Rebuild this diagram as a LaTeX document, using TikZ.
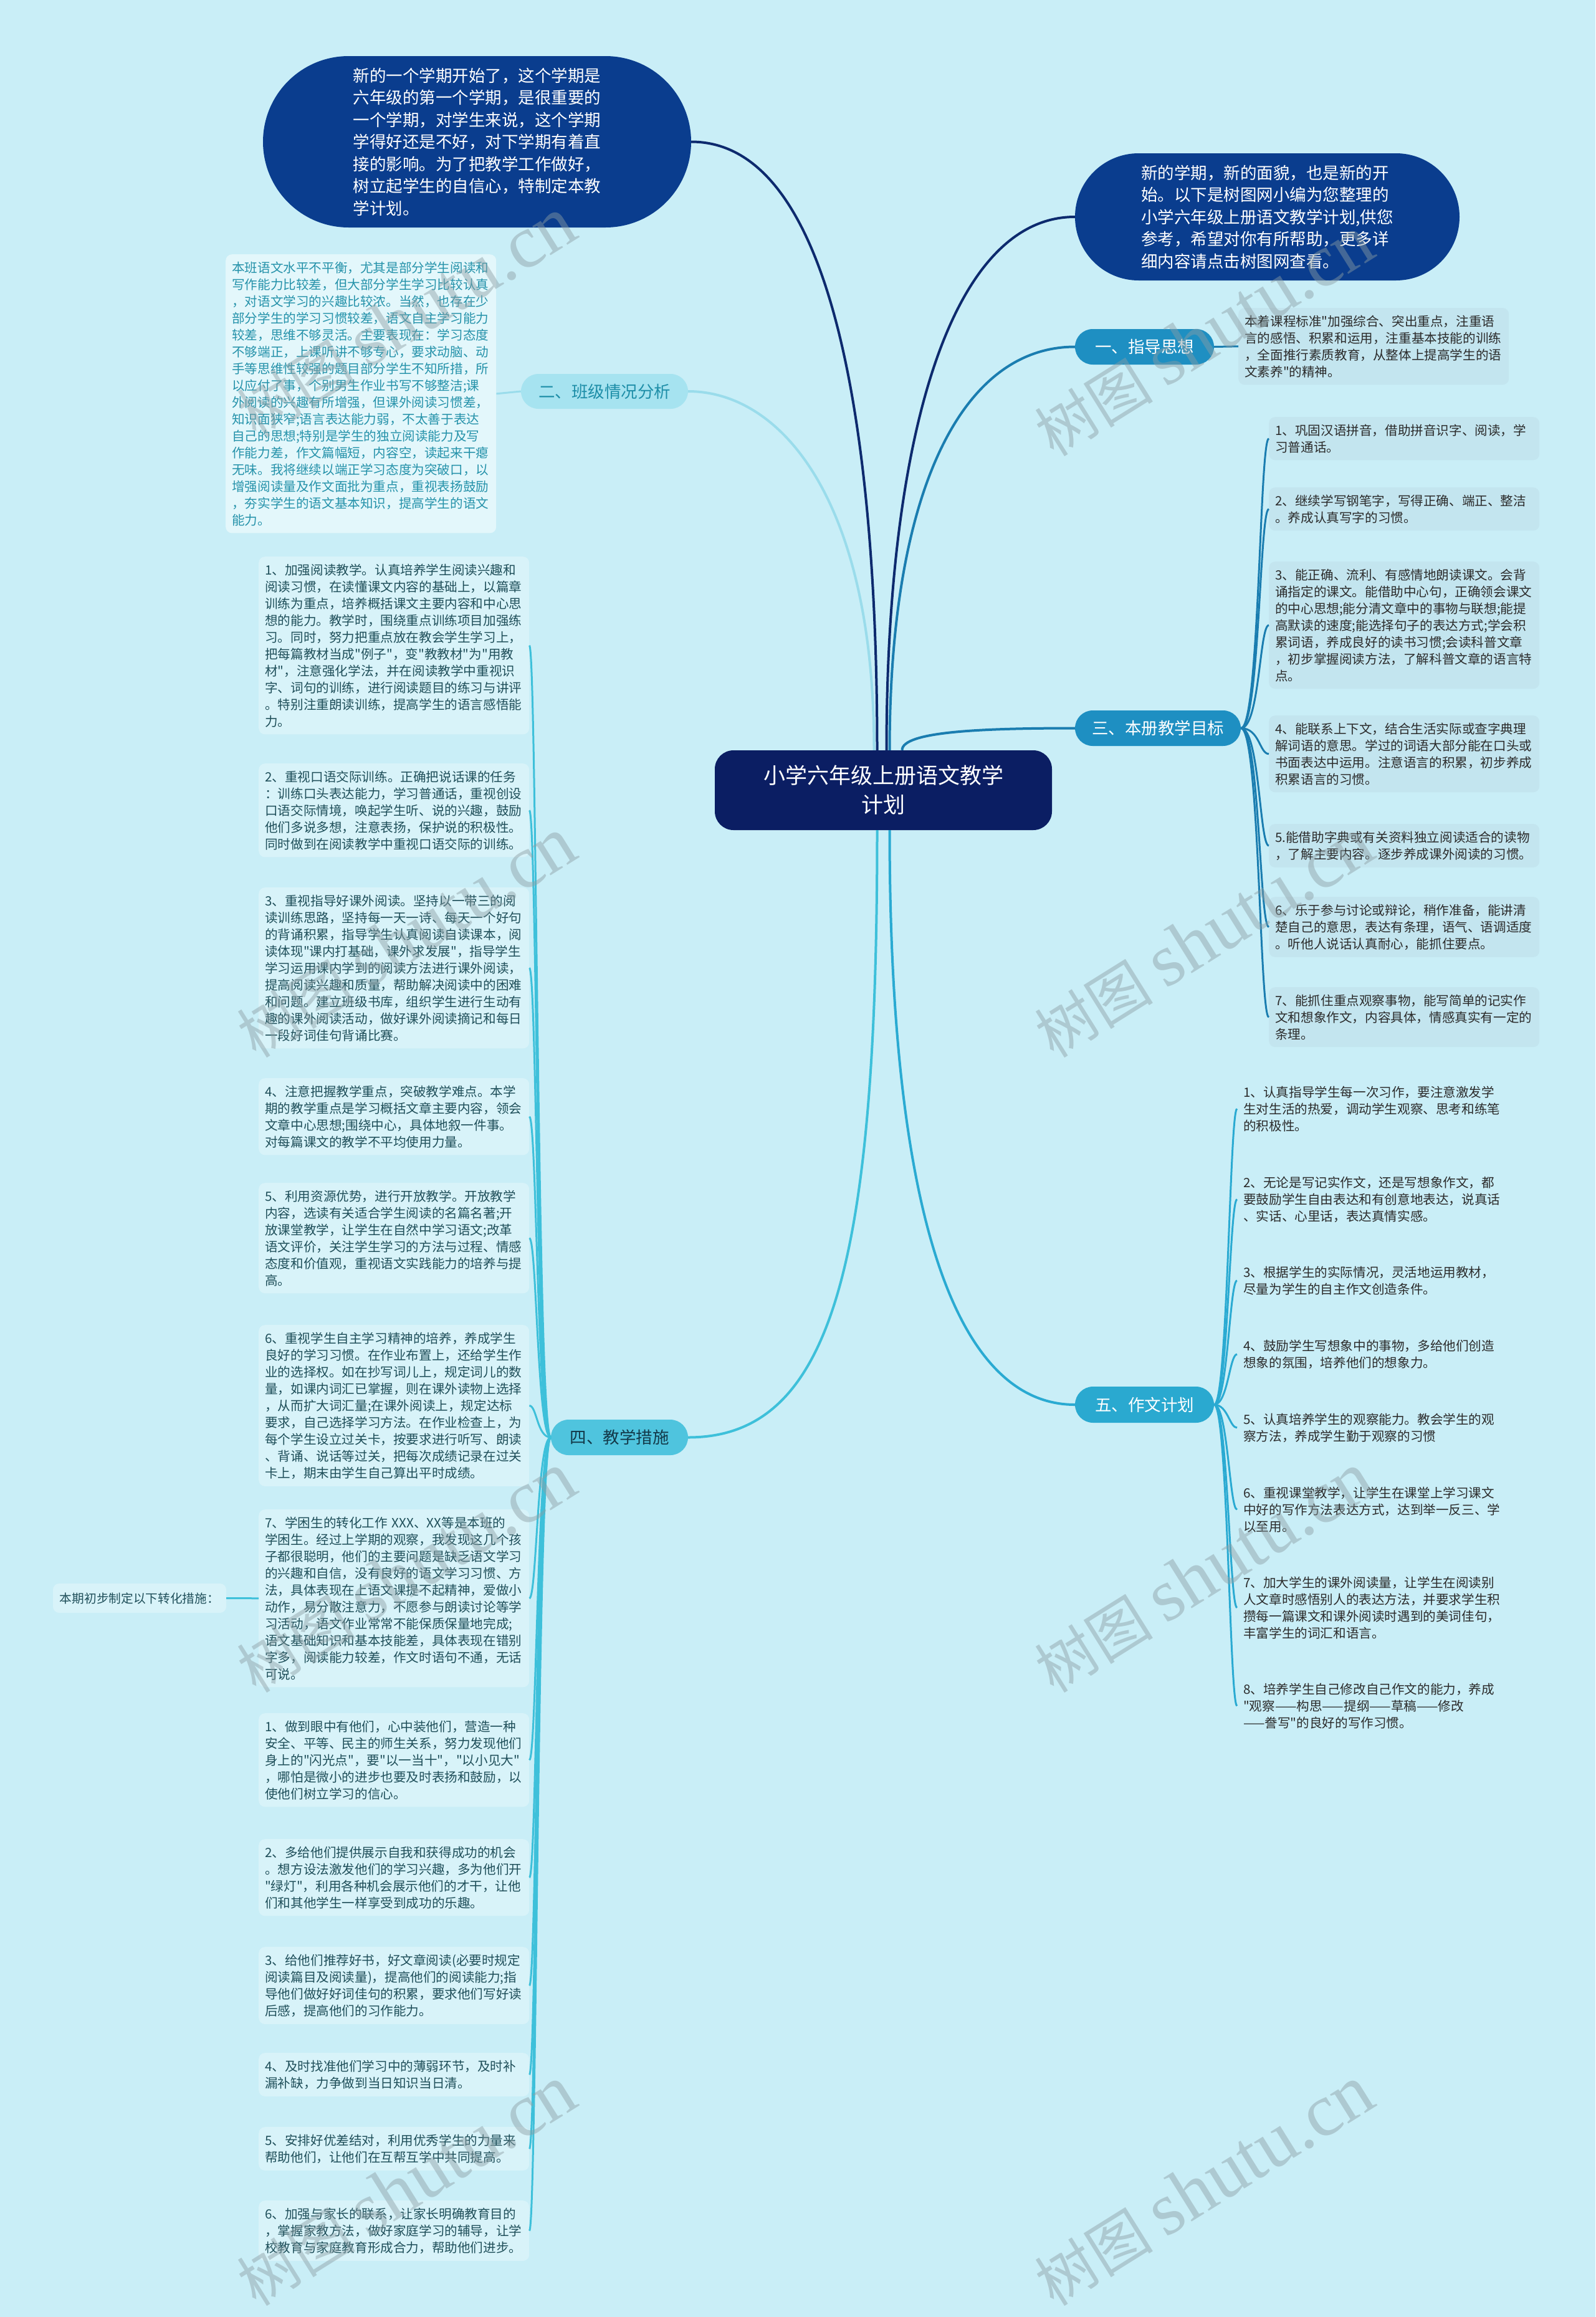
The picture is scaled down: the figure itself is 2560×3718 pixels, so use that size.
\documentclass[tikz,border=0pt]{standalone}
\usepackage{fontspec}
\setmainfont{Noto Sans CJK SC}
\newfontfamily\cjk{Noto Sans CJK SC}
\newfontfamily\wmserif{Liberation Serif}
\newcommand\myfs[2]{\cjk\fontsize{#1}{#2}\selectfont}
\usetikzlibrary{shapes.misc}
\definecolor{bgc}{HTML}{C9EEF7}
\definecolor{centerc}{HTML}{0B1E63}
\definecolor{bubblec}{HTML}{0A3D8E}
\definecolor{tealc}{HTML}{1E8FC2}
\definecolor{fivec}{HTML}{2AA9D0}
\definecolor{twoc}{HTML}{A6E3F0}
\definecolor{twotext}{HTML}{1E8EA8}
\definecolor{fourc}{HTML}{4FC4DE}
\definecolor{fourtext}{HTML}{133A4A}
\definecolor{navyline}{HTML}{0D2A6E}
\definecolor{tealline}{HTML}{1A7DB0}
\definecolor{fiveline}{HTML}{2AAAD2}
\definecolor{twoline}{HTML}{9ADCEB}
\definecolor{fourline}{HTML}{3EC0DA}
\definecolor{rleaf}{HTML}{C3E5EF}
\definecolor{lleaf}{HTML}{D8F3F9}
\definecolor{lleaftext}{HTML}{1F4F5A}
\definecolor{twoleaf}{HTML}{E3F7FB}
\definecolor{twoleaftext}{HTML}{2592AA}
\definecolor{darktext}{HTML}{2B2B2B}
\definecolor{wmc}{HTML}{8C9EA3}
\tikzset{
  leafbase/.style={anchor=north west, rounded corners=10pt, inner xsep=10pt, inner ysep=11.5pt,
    text width=414pt, align=left, font=\myfs{20.6}{27}},
  leafR/.style={leafbase, fill=rleaf, text=darktext},
  leafF/.style={leafbase, text=darktext},
  leafL/.style={leafbase, fill=lleaf, text=lleaftext},
  leafTwo/.style={leafbase, fill=twoleaf, text=twoleaftext},
  branch/.style={rounded rectangle, inner xsep=0pt, inner ysep=0pt, minimum height=57pt,
    font=\myfs{26.5}{30}},
  bubble/.style={rounded rectangle, fill=bubblec, text=white, inner xsep=0pt, align=left,
    font=\myfs{26.5}{35.5}},
  mainline/.style={line width=4pt},
  subline/.style={line width=3pt},
  wm/.style={rotate=32, text=wmc, text opacity=0.45, font=\myfs{95}{100}}
}
\begin{document}
\begin{tikzpicture}[x=1pt,y=-1pt]
\fill[bgc] (0,0) rectangle (2560,3718);
\useasboundingbox (0,0) rectangle (2560,3718);

% centre
\node[fill=centerc, text=white, rounded corners=30pt, minimum width=541pt, minimum height=128pt,
  align=center, font=\myfs{35}{47}] (c) at (1417.5,1268) {小学六年级上册语文教学\\计划};

% bubbles
\node[bubble, minimum width=687pt, minimum height=275pt] (tl) at (765.5,227.5)
 {新的一个学期开始了，这个学期是\\六年级的第一个学期，是很重要的\\一个学期，对学生来说，这个学期\\学得好还是不好，对下学期有着直\\接的影响。为了把教学工作做好，\\树立起学生的自信心，特制定本教\\学计划。};
\node[bubble, minimum width=617pt, minimum height=204pt] (tr) at (2033.5,348)
 {新的学期，新的面貌，也是新的开\\始。以下是树图网小编为您整理的\\小学六年级上册语文教学计划,供您\\参考，希望对你有所帮助，更多详\\细内容请点击树图网查看。};

% branches
\node[branch, fill=tealc, text=white, minimum width=223pt] (b1) at (1836.5,556.5) {一、指导思想};
\node[branch, fill=twoc, text=twotext, minimum width=268pt, minimum height=56pt] (b2) at (970,628) {二、班级情况分析};
\node[branch, fill=tealc, text=white, minimum width=266pt] (b3) at (1858,1168.5) {三、本册教学目标};
\node[branch, fill=fourc, text=fourtext, minimum width=220pt] (b4) at (994,2306.5) {四、教学措施};
\node[branch, fill=fivec, text=white, minimum width=223pt, minimum height=58pt] (b5) at (1836.5,2254) {五、作文计划};

% 一
\node[leafR] (a1) at (1987,494) {本着课程标准"加强综合、突出重点，注重语\\言的感悟、积累和运用，注重基本技能的训练\\，全面推行素质教育，从整体上提高学生的语\\文素养"的精神。};

% 二
\node[leafTwo] (a2) at (362,408) {本班语文水平不平衡，尤其是部分学生阅读和\\写作能力比较差，但大部分学生学习比较认真\\，对语文学习的兴趣比较浓。当然，也存在少\\部分学生的学习习惯较差，语文自主学习能力\\较差，思维不够灵活。主要表现在：学习态度\\不够端正，上课听讲不够专心，要求动脑、动\\手等思维性较强的题目部分学生不知所措，所\\以应付了事，个别男生作业书写不够整洁;课\\外阅读的兴趣有所增强，但课外阅读习惯差，\\知识面狭窄;语言表达能力弱，不太善于表达\\自己的思想;特别是学生的独立阅读能力及写\\作能力差，作文篇幅短，内容空，读起来干瘪\\无味。我将继续以端正学习态度为突破口，以\\增强阅读量及作文面批为重点，重视表扬鼓励\\，夯实学生的语文基本知识，提高学生的语文\\能力。};

% 三
\node[leafR] (t1) at (2036,669) {1、巩固汉语拼音，借助拼音识字、阅读，学\\习普通话。};
\node[leafR] (t2) at (2036,782) {2、继续学写钢笔字，写得正确、端正、整洁\\。养成认真写字的习惯。};
\node[leafR] (t3) at (2036,901) {3、能正确、流利、有感情地朗读课文。会背\\诵指定的课文。能借助中心句，正确领会课文\\的中心思想;能分清文章中的事物与联想;能提\\高默读的速度;能选择句子的表达方式;学会积\\累词语，养成良好的读书习惯;会读科普文章\\，初步掌握阅读方法，了解科普文章的语言特\\点。};
\node[leafR] (t4) at (2036,1148) {4、能联系上下文，结合生活实际或查字典理\\解词语的意思。学过的词语大部分能在口头或\\书面表达中运用。注意语言的积累，初步养成\\积累语言的习惯。};
\node[leafR] (t5) at (2036,1322) {5.能借助字典或有关资料独立阅读适合的读物\\，了解主要内容。逐步养成课外阅读的习惯。};
\node[leafR] (t6) at (2036,1439) {6、乐于参与讨论或辩论，稍作准备，能讲清\\楚自己的意思，表达有条理，语气、语调适度\\。听他人说话认真耐心，能抓住要点。};
\node[leafR] (t7) at (2036,1584) {7、能抓住重点观察事物，能写简单的记实作\\文和想象作文，内容具体，情感真实有一定的\\条理。};

% 五
\node[leafF] (f1) at (1985,1731) {1、认真指导学生每一次习作，要注意激发学\\生对生活的热爱，调动学生观察、思考和练笔\\的积极性。};
\node[leafF] (f2) at (1985,1876) {2、无论是写记实作文，还是写想象作文，都\\要鼓励学生自由表达和有创意地表达，说真话\\、实话、心里话，表达真情实感。};
\node[leafF] (f3) at (1985,2020) {3、根据学生的实际情况，灵活地运用教材，\\尽量为学生的自主作文创造条件。};
\node[leafF] (f4) at (1985,2138) {4、鼓励学生写想象中的事物，多给他们创造\\想象的氛围，培养他们的想象力。};
\node[leafF] (f5) at (1985,2256) {5、认真培养学生的观察能力。教会学生的观\\察方法，养成学生勤于观察的习惯};
\node[leafF] (f6) at (1985,2374) {6、重视课堂教学，让学生在课堂上学习课文\\中好的写作方法表达方式，达到举一反三、学\\以至用。};
\node[leafF] (f7) at (1985,2518) {7、加大学生的课外阅读量，让学生在阅读别\\人文章时感悟别人的表达方法，并要求学生积\\攒每一篇课文和课外阅读时遇到的美词佳句，\\丰富学生的词汇和语言。};
\node[leafF] (f8) at (1985,2689) {8、培养学生自己修改自己作文的能力，养成\\"观察——构思——提纲——草稿——修改\\——誊写"的良好的写作习惯。};

% 四
\node[leafL] (s1) at (415,893) {1、加强阅读教学。认真培养学生阅读兴趣和\\阅读习惯，在读懂课文内容的基础上，以篇章\\训练为重点，培养概括课文主要内容和中心思\\想的能力。教学时，围绕重点训练项目加强练\\习。同时，努力把重点放在教会学生学习上，\\把每篇教材当成"例子"，变"教教材"为"用教\\材"，注意强化学法，并在阅读教学中重视识\\字、词句的训练，进行阅读题目的练习与讲评\\。特别注重朗读训练，提高学生的语言感悟能\\力。};
\node[leafL] (s2) at (415,1225) {2、重视口语交际训练。正确把说话课的任务\\：训练口头表达能力，学习普通话，重视创设\\口语交际情境，唤起学生听、说的兴趣，鼓励\\他们多说多想，注意表扬，保护说的积极性。\\同时做到在阅读教学中重视口语交际的训练。};
\node[leafL] (s3) at (415,1424) {3、重视指导好课外阅读。坚持以一带三的阅\\读训练思路，坚持每一天一诗、每天一个好句\\的背诵积累，指导学生认真阅读自读课本，阅\\读体现"课内打基础，课外求发展"，指导学生\\学习运用课内学到的阅读方法进行课外阅读，\\提高阅读兴趣和质量，帮助解决阅读中的困难\\和问题。建立班级书库，组织学生进行生动有\\趣的课外阅读活动，做好课外阅读摘记和每日\\一段好词佳句背诵比赛。};
\node[leafL] (s4) at (415,1730) {4、注意把握教学重点，突破教学难点。本学\\期的教学重点是学习概括文章主要内容，领会\\文章中心思想;围绕中心，具体地叙一件事。\\对每篇课文的教学不平均使用力量。};
\node[leafL] (s5) at (415,1898) {5、利用资源优势，进行开放教学。开放教学\\内容，选读有关适合学生阅读的名篇名著;开\\放课堂教学，让学生在自然中学习语文;改革\\语文评价，关注学生学习的方法与过程、情感\\态度和价值观，重视语文实践能力的培养与提\\高。};
\node[leafL] (s6) at (415,2126) {6、重视学生自主学习精神的培养，养成学生\\良好的学习习惯。在作业布置上，还给学生作\\业的选择权。如在抄写词儿上，规定词儿的数\\量，如课内词汇已掌握，则在课外读物上选择\\，从而扩大词汇量;在课外阅读上，规定达标\\要求，自己选择学习方法。在作业检查上，为\\每个学生设立过关卡，按要求进行听写、朗读\\、背诵、说话等过关，把每次成绩记录在过关\\卡上，期末由学生自己算出平时成绩。};
\node[leafL] (s7) at (415,2422) {7、学困生的转化工作 XXX、XX等是本班的\\学困生。经过上学期的观察，我发现这几个孩\\子都很聪明，他们的主要问题是缺乏语文学习\\的兴趣和自信，没有良好的语文学习习惯、方\\法，具体表现在上语文课提不起精神，爱做小\\动作，易分散注意力，不愿参与朗读讨论等学\\习活动，语文作业常常不能保质保量地完成;\\语文基础知识和基本技能差，具体表现在错别\\字多，阅读能力较差，作文时语句不通，无话\\可说。};
\node[leafL] (u1) at (415,2749) {1、做到眼中有他们，心中装他们，营造一种\\安全、平等、民主的师生关系，努力发现他们\\身上的"闪光点"，要"以一当十"，"以小见大"\\，哪怕是微小的进步也要及时表扬和鼓励，以\\使他们树立学习的信心。};
\node[leafL] (u2) at (415,2951) {2、多给他们提供展示自我和获得成功的机会\\。想方设法激发他们的学习兴趣，多为他们开\\"绿灯"，利用各种机会展示他们的才干，让他\\们和其他学生一样享受到成功的乐趣。};
\node[leafL] (u3) at (415,3124) {3、给他们推荐好书，好文章阅读(必要时规定\\阅读篇目及阅读量)，提高他们的阅读能力;指\\导他们做好好词佳句的积累，要求他们写好读\\后感，提高他们的习作能力。};
\node[leafL] (u4) at (415,3294) {4、及时找准他们学习中的薄弱环节，及时补\\漏补缺，力争做到当日知识当日清。};
\node[leafL] (u5) at (415,3413) {5、安排好优差结对，利用优秀学生的力量来\\帮助他们，让他们在互帮互学中共同提高。};
\node[leafL] (u6) at (415,3531) {6、加强与家长的联系，让家长明确教育目的\\，掌握家教方法，做好家庭学习的辅导，让学\\校教育与家庭教育形成合力，帮助他们进步。};

\node[fill=lleaf, text=lleaftext, rounded corners=10pt, minimum width=278pt, minimum height=47pt,
  font=\myfs{19.7}{24}] (lab) at (224,2564.5) {本期初步制定以下转化措施：};

% main connectors
\draw[mainline, navyline] ([xshift=-10pt]c.north) .. controls +(0,-500) and +(230,0) .. (tl.east);
\draw[mainline, navyline] ([xshift=5pt]c.north) .. controls +(0,-500) and +(-200,0) .. (tr.west);
\draw[mainline, tealline] ([xshift=10pt]c.north) .. controls +(0,-420) and +(-180,0) .. (b1.west);
\draw[mainline, twoline] ([xshift=-15pt]c.north) .. controls +(0,-400) and +(150,0) .. (b2.east);
\draw[mainline, tealline] ([xshift=30pt]c.north) .. controls +(0,-30) and +(-150,0) .. (b3.west);
\draw[mainline, fourline] ([xshift=-10pt]c.south) .. controls +(0,700) and +(230,0) .. (b4.east);
\draw[mainline, fiveline] ([xshift=10pt]c.south) .. controls +(0,650) and +(-180,0) .. (b5.west);

% leaf connectors
\draw[subline, tealline] (b1.east) -- (a1.west);
\draw[subline, twoline] (b2.west) -- (a2.east);
\foreach \n in {t1,t2,t3,t4,t5,t6,t7}
  \draw[subline, tealline] (b3.east) .. controls +(30,0) and +(-15,0) .. (\n.west);
\foreach \n in {f1,f2,f3,f4,f5,f6,f7,f8}
  \draw[subline, fiveline] (b5.east) .. controls +(22,0) and +(-12,0) .. (\n.west);
\foreach \n in {s1,s2,s3,s4,s5,s6,s7,u1,u2,u3,u4,u5,u6}
  \draw[subline, fourline] (b4.west) .. controls +(-22,0) and +(12,0) .. (\n.east);
\draw[subline, fourline] (lab.east) -- (s7.west);

% watermarks
\foreach \wx/\wy/\wn in {652/510/w1, 1932/540/w2, 652/1505/w3, 1932/1505/w4, 652/2524/w5, 1932/2524/w6, 652/3508/w7, 1932/3508/w8}
  \node[wm] (\wn) at (\wx,\wy) {树图 {\wmserif\fontsize{120}{120}\selectfont shutu.cn}};
\end{tikzpicture}
\end{document}
